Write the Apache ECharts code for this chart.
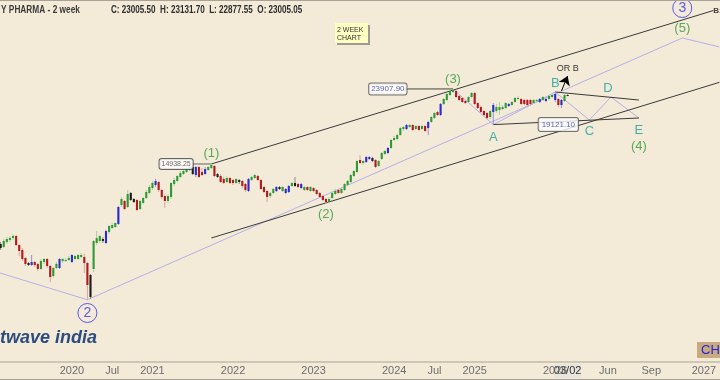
<!DOCTYPE html>
<html>
<head>
<meta charset="utf-8">
<title>NIFTY PHARMA - 2 week</title>
<script src="https://cdn.jsdelivr.net/npm/echarts@6.0.0/dist/echarts.min.js"></script>
<style>
html,body{margin:0;padding:0;background:#f3ead8;}
#chart{width:720px;height:380px;}
</style>
</head>
<body>
<div id="chart"></div>
<script>
// ---------- categories (2-week bars, then weekly future slots) ----------
const startDate = '2019-02-11';
const biweeklyCount = 185;      // through 2026-03-02
const futureWeeklyCount = 49;   // 2026-03-09 .. 2027-02-08

// ---------- tick labels ----------
const tickDates = ['2020-01-13','2020-07-13','2021-01-11','2022-01-10','2023-01-09','2024-01-08','2024-07-08','2025-01-06','2026-01-05','2026-06-01','2026-09-07','2027-01-04'];
const tickTexts = ['2020','Jul','2021','2022','2023','2024','Jul','2025','2026','Jun','Sep','2027'];

// ---------- candles: [open, close, low, high] ----------
const candles = [
[8770,8937,8661,9049],[9049,8826,8715,9163],[8881,9221,8826,9337],[9163,9337,9049,9455],[9279,9396,9163,9514],
[9396,9514,9279,9634],[9514,8993,8937,9574],[8993,8661,8394,9049],[8715,8237,8135,8826],[8289,7983,7884,8341],
[8034,7933,7884,8084],[7933,8084,7884,8446],[8084,7933,7834,8135],[7983,7737,7640,8034],[7737,8135,7688,8237],
[8084,8237,7983,8289],[8237,7884,7786,8289],[7884,7358,7131,7933],[7405,7786,7312,7834],[7786,7983,7737,8084],
[7786,8237,7737,8289],[8135,8237,8034,8289],[8135,8186,8084,8289],[8186,8289,8135,8394],[8084,8446,8034,8500],
[8237,8394,8186,8446],[8237,8446,8186,8500],[8341,8446,8289,8553],[8341,8034,7545,8500],[8034,6999,6380,8084],
[6491,7451,6410,7498],[7737,9221,7593,9279],[9106,9396,8993,9817],[9221,9514,9106,9574],[9337,9221,9106,9455],
[9106,9817,9049,9879],[9756,10129,9634,10193],[10003,10193,9941,10321],[10066,10321,10003,10386],[10257,11409,10193,11481],
[11553,11996,11409,12148],[11847,11267,11197,11921],[11409,12379,11338,12693],[12457,11921,11847,12535],[11996,11773,11699,12072],
[11921,11197,11127,11996],[11267,11847,11197,11921],[11699,12072,11626,12148],[12072,12535,11996,12693],[12457,12933,12379,13096],
[12852,13262,12693,13429],[13096,13429,12933,13598],[13345,12693,12535,13429],[12693,12148,11996,12772],[12224,11847,11338,12301],
[11847,12224,11699,12379],[12148,13262,11996,13345],[13179,13513,13014,13683],[13429,13856,13345,13943],[13769,14119,13683,14297],
[14031,14297,13943,14477],[14208,14477,14119,14659],[14387,14659,14297,14751],[14659,14031,13943,14844],[13943,14659,13769,14751],
[14659,13769,13683,14751],[14208,13943,13856,14568],[14031,14477,13943,14659],[14387,14659,14297,14751],[14568,14844,14477,14938.25],
[14751,13856,13769,14844],[14031,13769,13683,14119],[13856,13345,13262,14031],[13598,13262,13179,13769],[13345,13683,13262,13856],
[13683,13262,13179,13769],[13513,13262,13096,13598],[13262,13598,13179,13683],[13513,13345,13179,13598],[13429,13014,12852,13513],
[13179,12693,12535,13262],[12614,13598,12535,13683],[13513,13769,13429,13856],[13683,13943,13598,14031],[13856,13513,13429,13943],
[13513,12772,12693,13598],[12933,12535,12457,13014],[12614,12148,11773,12693],[12224,12457,12072,12535],[12457,12772,12379,12852],
[12614,12933,12535,13014],[12933,12772,12693,13014],[12614,12933,12535,13014],[12457,12772,12379,12852],[12535,13014,12457,13096],
[13014,13262,12933,13345],[13262,13014,12933,13769],[13179,12933,12852,13262],[12852,13179,12772,13262],[12693,12933,12614,13014],
[12933,12693,12614,13014],[12614,12933,12535,13014],[12852,12614,12535,12933],[12693,12379,12301,12772],[12457,12148,12072,12535],
[12224,11921,11847,12301],[11996,11773,11626,12072],[11773,11996,11699,12148],[12072,12457,11996,12535],[12379,12614,12301,12772],
[12693,12457,12379,12772],[12457,12772,12379,12852],[12693,13179,12614,13262],[13096,13429,13014,13513],[13345,13943,13262,14031],
[13856,14297,13769,14387],[14208,15220,14119,15316],[15316,15031,14938,15805],[15031,15220,14844,15316],[15125,15608,15031,15706],
[15414,15608,15316,15706],[15511,15220,15125,15608],[15316,14659,14568,15414],[14751,15220,14659,15316],[15414,16004,15316,16105],
[15904,16206,15805,16308],[16004,16514,15904,16618],[16514,17363,16411,17472],[17363,17581,17255,17803],[17472,17915,17363,18028],
[17915,18718,17803,18836],[18601,18836,18370,18954],[18601,19073,18485,19193],[18836,19073,18718,19193],[19073,18485,18370,19193],
[18601,18954,18485,19073],[18954,18485,18370,19073],[18601,18954,18485,19073],[18954,18370,18255,19073],[18718,19435,17915,19557],
[19435,20054,19314,20180],[19929,20562,19804,20691],[20691,20307,20180,20821],[20307,21753,20180,21890],[21753,22450,21615,22591],
[22305,23162,22166,23308],[23020,23602,22876,23750],[23455,23750,23308,23907.9],[23602,22733,22591,23750],[22876,22305,22166,23020],
[22591,22027,21890,22733],[22166,21890,21753,22305],[22027,22733,21890,22876],[22733,23308,22591,23455],[23308,21753,21615,23455],
[21890,21213,21080,22027],[21346,20691,20562,21480],[20821,20307,20180,20952],[20562,19929,19804,20691],[20054,20821,19804,20952],
[20691,21615,19121.1,21890],[20821,21346,20562,21753],[20952,21346,20307,22027],[21080,21346,20952,21615],[21213,21890,21080,22027],
[21480,21753,21346,21890],[21615,22027,21480,22166],[22027,22591,21890,22733],[22450,22591,22305,22876],[22450,21753,21615,22591],
[22305,21753,21615,22450],[22305,21615,21480,22450],[22305,21753,21615,22450],[21890,22305,21753,22450],[22166,22305,22027,22450],
[22027,22450,21890,22591],[22305,22733,22166,22876],[22166,22450,22027,22591],[22450,22876,22305,23020],[22733,23020,22591,23162],
[22305,23162,22027,23455],[22450,21615,21346,22591],[21615,22305,21213,22450],[22166,23020,22027,23162],[23005.05,23005.50,22877.55,23131.70]
];
// candle colour codes: g green, r red, b blue, k black
const tones = ('gkggggrrrr'+'kbrrggrrgg'+'bgggbgggrr'+'kgggkbgggb'+'grgkkrgggg'+
               'gbrrrggggg'+'gggkbrrbgg'+'rkrrgrrgkr'+'rbggrrrrgg'+'bkgbbgkrbg'+
               'rgrrrrrggg'+'rggggggrgb'+'bkrgggbggg'+'ggbgrgrgrb'+'ggrbggggrr'+
               'rrggrrrrrg'+'bggggbgggr'+'rrrggbgbgg'+'brbgk').split('');

// ---------- wave annotations (date, price) ----------
const upperChannel = [['2021-10-04',14938.25],['2027-01-25',39070]];
const lowerChannel = [['2021-10-04',9395],['2027-02-08',24923]];
const primaryPath  = [['2019-02-11',7583],['2020-03-23',6380],['2026-11-16',32898],['2027-02-08',31111]];
const trianglePath = [['2024-09-30',23907.9],['2025-03-31',19121.1],['2026-01-05',23455],['2026-04-20',19680],['2026-06-08',22733],['2026-08-10',19929]];
const triangleUpper = [['2026-01-05',23455],['2026-08-10',22305]];
const triangleLower = [['2025-03-31',19121.1],['2026-08-10',19929]];
const tag14938 = [['2021-07-12',14938.25],['2021-10-04',14938.25]];
const tag23907 = [['2024-03-04',23907.9],['2024-09-30',23907.9]];
const tag19121 = ['2026-01-19',19121.1];
const orBArrow = [['2026-02-02',23602],['2026-03-02',25927]];
const orBText  = ['2026-03-02',27090];
const channelTag = ['2027-01-25',39070];
const waveLabels = [
  ['(1)','2021-10-04',16004,'w'],['(2)','2023-03-06',10920,'w'],['(3)','2024-09-30',25444,'w'],
  ['(4)','2026-08-10',16722,'w'],['(5)','2026-11-16',35024,'w'],
  ['A','2025-03-31',17692,'s'],['B','2026-01-05',24814,'s'],['C','2026-04-20',18370,'s'],
  ['D','2026-06-01',24050,'s'],['E','2026-08-10',18485,'s']
];
const circledLabels = [['2','2020-03-23',5873],['3','2026-11-16',39700]];

// ---------- build ----------
function addDays(iso, n){const d=new Date(iso+'T00:00:00Z');d.setUTCDate(d.getUTCDate()+n);return d.toISOString().slice(0,10);}
const categories=[];
for(let i=0;i<biweeklyCount;i++) categories.push(addDays(startDate,14*i));
const lastBarDate=categories[categories.length-1];
for(let i=1;i<=futureWeeklyCount;i++) categories.push(addDays(lastBarDate,7*i));
const tickMap={}; tickDates.forEach((d,i)=>tickMap[d]=tickTexts[i]);

const toneColors={
  g:{body:'#2f9a35',wick:'#a6d09f'},
  r:{body:'#b2181c',wick:'#d9a4a2'},
  b:{body:'#2b2bd0',wick:'#9393dd'},
  k:{body:'#1c1c1c',wick:'#8c8c8c'}
};
const candleData=candles.map((c,i)=>[i,c[0],c[1],c[2],c[3]]);
const FONT='"Liberation Sans", Arial, sans-serif';
const GREEN='#2f9a35', TEAL='#1d9e9e', BLUE='#3434ee';

function pathSeries(data,color,z){
  return {type:'line',data:data,symbol:'none',silent:true,animation:false,z:z,
          lineStyle:{color:color,width:1},emphasis:{disabled:true}};
}

const labelSeriesData=waveLabels.map(w=>({value:[w[1],w[2]],label:{formatter:w[0],color:w[3]==='w'?GREEN:TEAL}}));

const option={
  animation:false,
  backgroundColor:'#f3ead8',
  grid:{left:-4,right:-1,top:1,bottom:18,containLabel:false,outerBoundsMode:'none'},
  xAxis:{type:'category',data:categories,boundaryGap:true,
    axisTick:{show:false},
    axisLine:{show:true,lineStyle:{color:'#cfc7b6',width:2}},
    splitLine:{show:false},
    axisLabel:{interval:(idx,val)=>tickMap[val]!==undefined,formatter:(val)=>tickMap[val]||'',
      color:'#6e6e6e',fontSize:11,fontFamily:FONT,margin:3}},
  yAxis:{type:'log',logBase:10,min:4320.2,max:41480,show:false,splitLine:{show:false}},
  series:[
    pathSeries(primaryPath,'#b7b0e8',2),
    pathSeries(trianglePath,'#b7b0e8',2),
    pathSeries(upperChannel,'#3a3a3a',3),
    pathSeries(lowerChannel,'#3a3a3a',3),
    pathSeries(triangleUpper,'#3a3a3a',3),
    pathSeries(triangleLower,'#3a3a3a',3),
    pathSeries(tag14938,'#666',3),
    pathSeries(tag23907,'#444',3),
    {type:'custom',z:5,clip:true,silent:true,data:candleData,encode:{x:0,y:[1,2,3,4]},
      renderItem:function(params,api){
        const i=api.value(0);
        const pO=api.coord([i,api.value(1)]);
        const pC=api.coord([i,api.value(2)]);
        const pL=api.coord([i,api.value(3)]);
        const pH=api.coord([i,api.value(4)]);
        const band=api.coord([i+1,api.value(1)])[0]-pO[0];
        const w=band*0.68;
        const t=toneColors[tones[params.dataIndex]];
        const top=Math.min(pO[1],pC[1]);
        const h=Math.max(Math.abs(pO[1]-pC[1]),1);
        return {type:'group',children:[
          {type:'line',shape:{x1:pO[0],y1:pH[1],x2:pO[0],y2:pL[1]},style:{stroke:t.wick,lineWidth:1}},
          {type:'rect',shape:{x:pO[0]-w/2,y:top,width:w,height:h},style:{fill:t.body}}
        ]};
      }},
    {type:'scatter',z:8,silent:true,symbolSize:0,data:labelSeriesData,
      label:{show:true,position:'inside',fontSize:13,fontFamily:FONT}},
    {type:'scatter',z:8,silent:true,symbol:'circle',symbolSize:19,
      itemStyle:{color:'rgba(0,0,0,0)',borderColor:BLUE,borderWidth:1},
      data:circledLabels.map(c=>({value:[c[1],c[2]],label:{formatter:c[0]}})),
      label:{show:true,position:'inside',fontSize:14,color:BLUE,fontFamily:FONT}},
    {type:'scatter',z:9,silent:true,symbolSize:0,
      data:[
        {value:tag14938[0],label:{formatter:'14938.25',position:'left',distance:0,color:'#444',fontSize:7,padding:[2,2,1,2],borderColor:'#444'}},
        {value:tag23907[0],label:{formatter:'23907.90',position:'left',distance:0,color:'#2b3fa8',fontSize:8,padding:[2,2,1,2],borderColor:'#555'}},
        {value:tag19121,label:{formatter:'19121.10',position:'inside',color:'#2b3fa8',fontSize:8,padding:[3,3,2,3],borderColor:'#555'}},
        {value:orBText,label:{formatter:'OR B',position:'inside',color:'#000',fontSize:9,backgroundColor:'transparent',borderWidth:0}},
        {value:channelTag,label:{formatter:'B:',position:'right',distance:0,color:'#111',fontSize:8,fontWeight:'bold',backgroundColor:'transparent',borderWidth:0}}
      ],
      label:{show:true,fontFamily:FONT,backgroundColor:'#ffffff',borderWidth:1,borderRadius:2}},
    {type:'line',data:[],silent:true,z:9,
      markLine:{silent:true,animation:false,symbol:['none','arrow'],symbolSize:9,
        label:{show:false},lineStyle:{color:'#000',type:'solid',width:1},
        data:[[{coord:orBArrow[0]},{coord:orBArrow[1]}]]}}
  ]
};

const chart=echarts.init(document.getElementById('chart'),null,{renderer:'canvas',width:720,height:380});
chart.setOption(option);

const last=candles[candles.length-1];
const infoText='C: '+last[1].toFixed(2)+'  H: '+last[3].toFixed(2)+'  L: '+last[2].toFixed(2)+'  O: '+last[0].toFixed(2);
const crossX=chart.convertToPixel({xAxisIndex:0},lastBarDate);

chart.setOption({graphic:[
  {type:'line',shape:{x1:0,y1:0.5,x2:720,y2:0.5},style:{stroke:'#a9a296',lineWidth:1},z:50},
  {type:'line',shape:{x1:0,y1:379.5,x2:720,y2:379.5},style:{stroke:'#a9a296',lineWidth:1},z:50},
  {type:'text',x:1,y:5,scaleX:0.83,style:{text:'Y PHARMA - 2 week',font:'bold 10px '+FONT,fill:'#3b3b3b'},z:50},
  {type:'text',x:111,y:5,scaleX:0.81,style:{text:infoText,font:'bold 10px '+FONT,fill:'#2e2e2e'},z:50},
  {type:'group',left:335,top:23,z:50,children:[
    {type:'rect',shape:{x:2,y:2,width:33,height:20},style:{fill:'#9d9a94'}},
    {type:'rect',shape:{x:0,y:0,width:33,height:20},style:{fill:'#ffffc2'}},
    {type:'text',style:{x:2,y:3,text:'2 WEEK\nCHART',font:'7px '+FONT,fill:'#333',lineHeight:8}}
  ]},
  {type:'text',left:0,top:329,style:{text:'twave india',font:'italic bold 18px '+FONT,fill:'#2d4c7e'},z:50},
  {type:'group',left:697,top:342,z:50,children:[
    {type:'rect',shape:{x:0,y:0,width:30,height:16},style:{fill:'#c8aa80'}},
    {type:'text',style:{x:4,y:2,text:'CH:',font:'13px '+FONT,fill:'#2323dd'}}
  ]},
  {type:'group',x:crossX-13.5,y:364,z:60,children:[
    {type:'rect',shape:{x:0,y:0,width:27,height:14},style:{fill:'#e8e5de'}},
    {type:'text',style:{x:13.5,y:7,text:'03/02',font:'11px '+FONT,fill:'#333',align:'center',verticalAlign:'middle'}}
  ]}
]});
</script>
</body>
</html>
